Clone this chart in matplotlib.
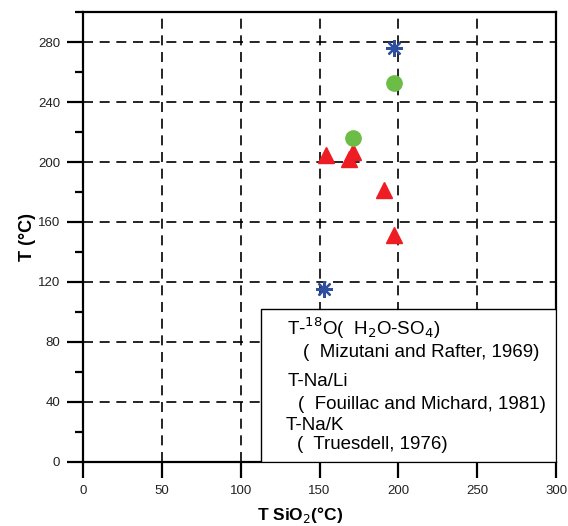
import matplotlib.pyplot as plt
from matplotlib.patches import Rectangle
from matplotlib.ticker import MultipleLocator

plt.rcParams['font.family'] = ['Liberation Sans', 'DejaVu Sans']

# T-18O (H2O-SO4)
t_so4_x = [153, 197]
t_so4_y = [115, 276]
# T-Na/Li
t_nali_x = [171, 197]
t_nali_y = [216, 253]
# T-Na/K
t_nak_x = [154, 171, 169, 191, 197]
t_nak_y = [205, 207, 202, 181, 151]

legend_lines = [
    r"T-$^{18}$O(  H$_2$O-SO$_4$)",
    "(  Mizutani and Rafter, 1969)",
    "T-Na/Li",
    "(  Fouillac and Michard, 1981)",
    "T-Na/K",
    "(  Truesdell, 1976)",
]

fig = plt.figure(figsize=(5.68, 5.26), dpi=100)
ax = fig.add_axes([0.146, 0.122, 0.833, 0.855])

ax.grid(True, color='black', linestyle=(0, (6, 4)), linewidth=1.2)
ax.set_axisbelow(True)

ax.plot(t_nak_x, t_nak_y, linestyle='none', marker='^', markersize=11,
        color='#ee1d23', zorder=3)
ax.plot(t_nali_x, t_nali_y, linestyle='none', marker='o', markersize=11,
        color='#6bbd45', zorder=3)
ax.plot(t_so4_x, t_so4_y, linestyle='none', marker=(8, 2, 0), markersize=12,
        markeredgewidth=1.6, color='#2f4f9f', zorder=3)

ax.set_xlim(0, 300)
ax.set_ylim(0, 300)
ax.set_xticks([0, 50, 100, 150, 200, 250, 300])
ax.set_yticks([0, 40, 80, 120, 160, 200, 240, 280])
ax.yaxis.set_minor_locator(MultipleLocator(20))
ax.tick_params(axis='both', which='major', direction='out', length=11.5,
               width=1.6, labelsize=9.5, pad=5, labelcolor='#222222')
ax.tick_params(axis='y', which='minor', direction='out', length=6, width=1.6)
for s in ax.spines.values():
    s.set_linewidth(1.6)

ax.set_xlabel(r"T SiO$_2$(°C)", fontsize=12.5, fontweight='bold')
ax.set_ylabel("T (°C)", fontsize=13, fontweight='bold')
ax.xaxis.set_label_coords(0.459, -0.095)
ax.yaxis.set_label_coords(-0.100, 0.5)

# legend box (text only)
box = Rectangle((113, 0), 187, 102, facecolor='white', edgecolor='black',
                linewidth=1.0, zorder=4)
ax.add_patch(box)
text_x = [0.431, 0.465, 0.433, 0.455, 0.429, 0.452]
text_y = [0.298, 0.242, 0.178, 0.127, 0.080, 0.038]
for txt, tx, ty in zip(legend_lines, text_x, text_y):
    ax.text(tx, ty, txt, transform=ax.transAxes, fontsize=13.5,
            va='center', ha='left', zorder=5)

fig.savefig('out.png', dpi=100)
